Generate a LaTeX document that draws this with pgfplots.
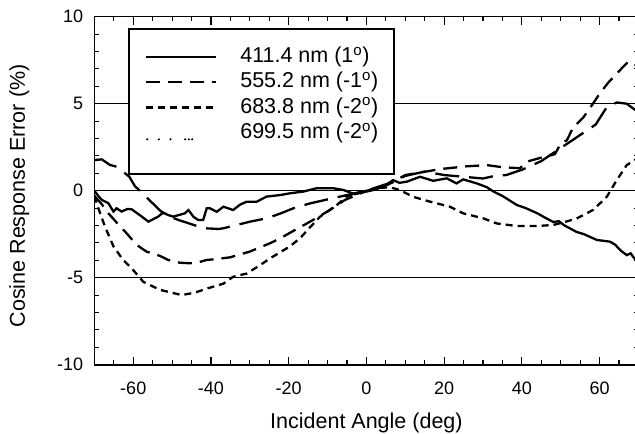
\documentclass[border=0pt]{standalone}
\usepackage{fontspec}
\setmainfont{Liberation Sans}
\usepackage{pgfplots}
\pgfplotsset{compat=1.18}
\newcommand{\lf}{\fontsize{21.5}{21.5}\selectfont}
\begin{document}
\begin{tikzpicture}
\begin{axis}[
  scale only axis, width=544pt, height=348pt,
  xmin=-70, xmax=70, ymin=-10, ymax=10,
  xtick={-60,-40,...,60},
  minor xtick={-70,-65,...,70},
  ytick={-10,-5,0,5,10},
  minor ytick={-10,-9,...,10},
  tick align=inside, major tick length=8pt, minor tick length=4.5pt,
  tick style={black, line width=1.1pt},
  axis line style={line width=1.6pt},
  ymajorgrids, grid style={black, line width=1pt},
  /pgf/number format/assume math mode=true,
  tick label style={font=\fontsize{18}{18}\selectfont, inner sep=0pt},
  xticklabel style={anchor=base, yshift=-29.7pt},
  yticklabel style={anchor=east, xshift=-11pt},
  xlabel={Incident Angle (deg)},
  ylabel={Cosine Response Error (\%)},
  label style={font=\lf},
  xlabel style={at={(axis description cs:0.5,-0.1828)}, anchor=base},
  ylabel style={at={(axis description cs:-0.1276,0.485)}, anchor=base},
  legend style={at={(0.0618,0.9684)}, anchor=north west, draw=black, line width=2pt, fill=white,
    inner xsep=16pt, inner ysep=18pt, row sep=4.8pt,
    font=\lf,
    nodes={inner sep=0pt, text height=16pt, text depth=}},
  legend cell align=left,
  legend image code/.code={\draw[#1] (0pt,0pt) -- (70pt,0pt); \path (93pt,0pt);},
]
% 411.4 nm solid
\addplot[black, line width=2.3pt] coordinates {
(-70,0) (-69,-0.3) (-68.1,-0.53) (-66.4,-0.72) (-65.1,-1.2) (-64.3,-1.01) (-63,-1.2)
(-61.5,-1.05) (-60.4,-1.07) (-57.8,-1.49) (-56.1,-1.78) (-53.6,-1.49) (-52.3,-1.26)
(-51,-1.4) (-49.7,-1.49) (-46.7,-1.3) (-45.8,-1.11) (-44.5,-1.5) (-43.3,-1.68) (-42,-1.68)
(-41.1,-1.01) (-40.3,-1.01) (-38.5,-1.21) (-36.8,-0.92) (-34.3,-1.11) (-32.5,-0.8)
(-30.8,-0.63) (-28.2,-0.63) (-25.7,-0.34) (-22.2,-0.25) (-19.7,-0.15) (-16.2,-0.05)
(-12.8,0.14) (-8.5,0.14) (-5.9,0.04) (-3,-0.2) (0,-0.05) (2,0.05) (4.3,0.23) (6.9,0.61)
(8.5,0.45) (10.4,0.52) (13.8,0.8) (17.2,0.57) (20.7,0.71) (23.2,0.42) (24.9,0.65)
(28.4,0.42) (31,0.2) (32.7,-0.05) (35,-0.3) (38.7,-0.82) (41,-1.0) (44,-1.3) (46,-1.55)
(48.1,-1.8) (49.5,-1.75) (51,-2.0) (54.1,-2.37) (56,-2.5) (59.3,-2.83) (62.7,-2.93)
(64,-3.1) (65.5,-3.45) (67,-3.7) (68,-3.6) (70,-4.2)
};
\addlegendentry{\lf 411.4 nm (1\textsuperscript{o})\rule[-4.5pt]{0pt}{4.5pt}}
% 555.2 nm long dash
\addplot[black, line width=2.3pt, dash pattern=on 14pt off 8pt] coordinates {
(-70,-0.3) (-68,-0.8) (-66.4,-1.3) (-64,-1.9) (-61.7,-2.45) (-59.1,-3.12) (-56.6,-3.5)
(-53.1,-3.75) (-51,-3.98) (-48,-4.14) (-45.4,-4.17) (-43,-4.1) (-41.1,-3.98) (-39,-3.94)
(-35.1,-3.83) (-30,-3.5) (-24.8,-3.02) (-22.2,-2.74) (-18.4,-2.26) (-13.7,-1.68)
(-9.4,-1.11) (-5.5,-0.53) (-2,-0.2) (0,0) (3,0.1) (6,0.4) (10,0.9) (14,1.05) (19.3,1.25)
(25.7,1.4) (31,1.47) (35,1.35) (39.5,1.29) (41.3,1.67) (45,1.9) (48.5,2.1) (50,2.7)
(51.6,2.9) (53.2,3.64) (55.8,4.2) (58.3,5.0) (60.1,5.6) (62.2,6.2) (64.5,6.75) (67.3,7.4)
(69,7.3) (70,7.0)
};
\addlegendentry{\lf 555.2 nm (-1\textsuperscript{o})\rule[-4.5pt]{0pt}{4.5pt}}
% 683.8 nm short dash
\addplot[black, line width=2.3pt, dash pattern=on 7pt off 5pt] coordinates {
(-70,-0.3) (-69,-1.0) (-67.3,-2.05) (-65.1,-3.2) (-62.6,-3.98) (-60.4,-4.46) (-57.4,-5.24)
(-53.1,-5.7) (-47.5,-6.0) (-44,-5.85) (-41.1,-5.63) (-36.8,-5.34) (-34.3,-4.95)
(-30.8,-4.76) (-27.5,-4.3) (-24.8,-3.89) (-19.7,-3.2) (-17.1,-2.74) (-14.5,-2.1)
(-11.9,-1.49) (-7.6,-0.82) (-5.1,-0.34) (-2,-0.1) (0,0) (3,0.15) (6,0.2) (8.6,0.04)
(12,-0.35) (16.4,-0.63) (21.5,-0.92) (24.9,-1.3) (30.1,-1.59) (33.5,-1.88) (38.7,-2.03)
(43.8,-2.03) (48.1,-1.97) (51,-1.8) (54.1,-1.6) (58.4,-1.1) (61.9,-0.34) (64.4,0.6)
(67,1.47) (70,1.9)
};
\addlegendentry{\lf 683.8 nm (-2\textsuperscript{o})\rule[-4.5pt]{0pt}{4.5pt}}
% 699.5 nm dotted
\addplot[black, line width=2.3pt, dash pattern=on 24pt off 10pt,
  legend image code/.code={\draw[black, line width=2.3pt, line cap=round,
    dash pattern=on 0pt off 11.7pt on 0pt off 11.6pt on 0pt off 14.7pt on 0pt off 3.7pt on 0pt off 3.3pt on 0pt off 60pt]
    (1pt,0pt) -- (70pt,0pt); \path (0pt,0pt) (93pt,0pt);}] coordinates {
(-70,1.76) (-68.1,1.8) (-66,1.48) (-64.3,1.38) (-62.6,1.09) (-61,0.8) (-59.6,0.27)
(-56.5,-0.4) (-52.8,-1.2) (-50.5,-1.5) (-48.4,-1.68) (-44,-2.0) (-41.5,-2.16) (-38,-2.2)
(-36.8,-2.16) (-33,-1.95) (-30,-1.78) (-25.7,-1.59) (-22,-1.3) (-18.8,-1.01) (-14.5,-0.73)
(-10,-0.5) (-6.8,-0.34) (-3,-0.15) (0,0) (4,0.3) (7,0.5) (10,0.85) (13,1.0) (15,1.1)
(20,0.9) (25,0.8) (30,0.7) (33,0.85) (36,0.9) (40,1.2) (45,1.7) (49,2.3) (52,2.75)
(55,3.2) (59,3.8) (62,4.85) (64.5,5.07) (67,5.0) (70,4.5)
};
\addlegendentry{\lf 699.5 nm (-2\textsuperscript{o})\rule[-17.4pt]{0pt}{17.4pt}}
\end{axis}
\pgfresetboundingbox
\path[use as bounding box] ([xshift=-94.4pt,yshift=-68.3pt]current axis.south west) rectangle ([xshift=-3.4pt,yshift=16.7pt]current axis.north east);
\end{tikzpicture}
\end{document}
